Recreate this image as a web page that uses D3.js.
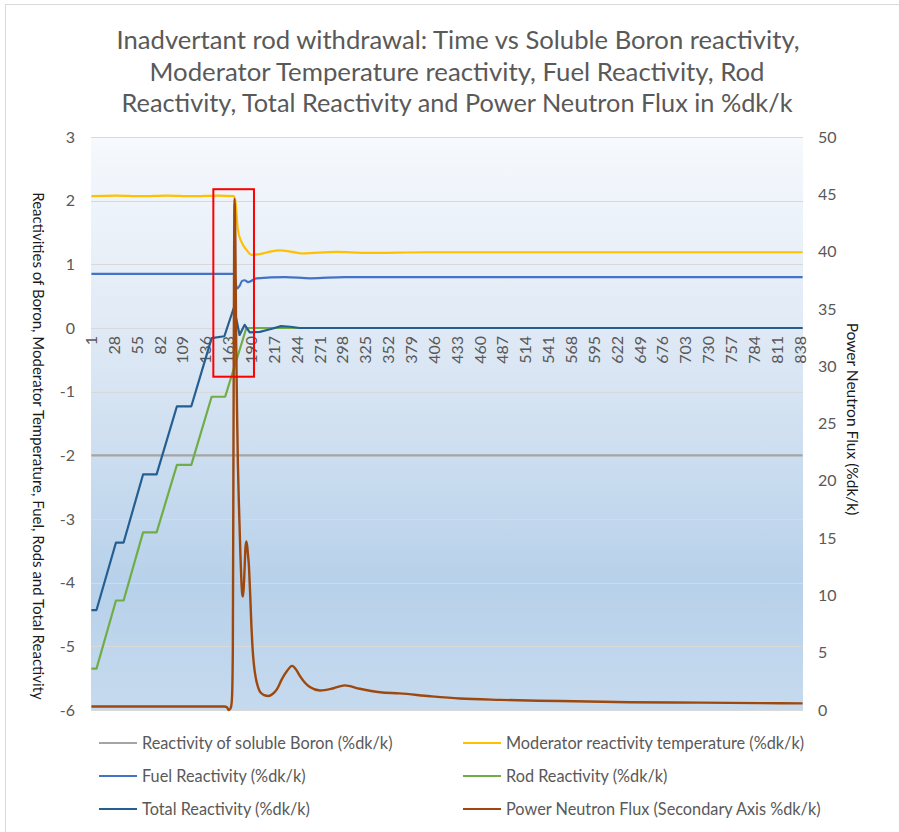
<!DOCTYPE html>
<html>
<head>
<meta charset="utf-8">
<script src="https://cdn.jsdelivr.net/npm/d3@7"></script>
<style>
  html, body { margin: 0; padding: 0; background: #ffffff; }
  svg { display: block; font-family: Lato, "Open Sans", sans-serif; }
</style>
</head>
<body>
<svg id="chart" width="899" height="832"></svg>
<script>
// ---- data -------------------------------------------------------------
// simulation time steps (category axis)
const timeSteps = d3.range(1, 842);
const tickLabels = [1, 28, 55, 82, 109, 136, 163, 190, 217, 244, 271, 298, 325, 352, 379, 406,
  433, 460, 487, 514, 541, 568, 595, 622, 649, 676, 703, 730, 757, 784, 811, 838];
const leftTicks = [-6, -5, -4, -3, -2, -1, 0, 1, 2, 3];
const rightTicks = [0, 5, 10, 15, 20, 25, 30, 35, 40, 45, 50];

const titleLines = [
  "Inadvertant rod withdrawal: Time vs Soluble Boron reactivity,",
  "Moderator Temperature reactivity, Fuel Reactivity, Rod",
  "Reactivity, Total Reactivity and Power Neutron Flux in %dk/k"
];
const leftAxisTitle = "Reactivities of Boron, Moderator Temperature, Fuel, Rods and Total Reactivity";
const rightAxisTitle = "Power Neutron Flux (%dk/k)";

const seriesNames = [
  "Reactivity of soluble Boron (%dk/k)",
  "Moderator reactivity temperature (%dk/k)",
  "Fuel Reactivity (%dk/k)",
  "Rod Reactivity (%dk/k)",
  "Total Reactivity (%dk/k)",
  "Power Neutron Flux (Secondary Axis %dk/k)"
];

// reactivity series (%dk/k), sampled at the listed time steps
const boronT = [1, 841];
const boronV = [-2, -2];

const moderatorT = [1, 30, 60, 90, 120, 150, 169, 171, 174, 178, 184, 190, 200, 212, 224, 236, 250, 290, 325, 400, 841];
const moderatorV = [2.07, 2.08, 2.07, 2.08, 2.07, 2.08, 2.07, 2.0, 1.54, 1.36, 1.23, 1.15, 1.16, 1.20, 1.22, 1.20, 1.17, 1.195, 1.18, 1.19, 1.19];

const fuelT = [1, 169, 170, 173, 176, 179, 182, 186, 196, 230, 260, 300, 841];
const fuelV = [0.85, 0.85, 0.82, 0.62, 0.66, 0.74, 0.75, 0.72, 0.78, 0.80, 0.78, 0.80, 0.80];

const rodT = [1, 7, 30, 39, 62, 78, 102, 119, 143, 159, 184, 841];
const rodV = [-5.35, -5.35, -4.28, -4.28, -3.21, -3.21, -2.15, -2.15, -1.08, -1.08, 0, 0];

const totalT = [1, 7, 30, 39, 62, 78, 102, 119, 143, 158, 169, 170, 176, 182, 188, 200, 212, 225, 236, 247, 841];
const totalV = [-4.43, -4.43, -3.37, -3.37, -2.30, -2.30, -1.23, -1.23, -0.16, -0.13, 0.31, 0.28, -0.11, 0.05, -0.07, -0.06, -0.02, 0.03, 0.02, 0.0, 0.0];

// power neutron flux (secondary axis)
const fluxT = [1, 100, 158, 161, 163, 165, 166, 167, 168, 169, 170, 171, 172, 173, 174, 175, 176, 177, 178, 179, 180,
  181, 182, 183, 184, 185, 186, 187, 188, 189, 190, 191, 192, 194, 197, 200, 205, 210, 215, 220, 226, 232, 238,
  243, 247, 253, 259, 271, 287, 300, 318, 342, 365, 401, 436, 484, 555, 637, 720, 791, 841];
const fluxV = [0.3, 0.3, 0.3, 0.25, 0.0, 0.1, 0.3, 1.0, 5.0, 28.0, 44.6, 41.0, 32.0, 26.0, 21.5, 18.5, 16.0, 13.5, 11.5, 10.2, 9.9,
  10.8, 12.5, 14.2, 14.7, 14.3, 13.5, 12.6, 11.0, 9.2, 7.3, 5.8, 4.7, 3.3, 2.2, 1.6, 1.3, 1.22, 1.4, 1.8, 2.7, 3.4, 3.85,
  3.5, 3.0, 2.4, 2.0, 1.7, 1.9, 2.15, 1.85, 1.55, 1.45, 1.2, 1.0, 0.88, 0.78, 0.68, 0.64, 0.6, 0.58];

// highlighted window around the excursion
const highlightT = [145, 193];
const highlightV = [2.18, -0.765];

// ---- layout & style ----------------------------------------------------
const plot = { left: 91, right: 803, top: 137, bottom: 710 };
const colors = ["#a5a5a5", "#ffc000", "#4472c4", "#70ad47", "#255e91", "#9e480e"];
const textGray = "#595959";
const titleWidths = [683, 615, 671];

const svg = d3.select("#chart");

// outer chart border
svg.append("rect")
  .attr("x", 5.5).attr("y", 4.5).attr("width", 920).attr("height", 860)
  .attr("fill", "#ffffff").attr("stroke", "#d9d9d9").attr("stroke-width", 1);

const x = d3.scaleLinear()
  .domain([timeSteps[0] - 0.5, timeSteps[timeSteps.length - 1] + 0.5])
  .range([plot.left, plot.right]);
const yL = d3.scaleLinear().domain([-6, 3]).range([plot.bottom, plot.top]);
const yR = d3.scaleLinear().domain([0, 50]).range([plot.bottom, plot.top]);

// plot-area gradient
const defs = svg.append("defs");
const grad = defs.append("linearGradient").attr("id", "plotBg")
  .attr("x1", 0).attr("y1", 0).attr("x2", 0).attr("y2", 1);
[[0, "#f6f9fd"], [0.35, "#dfe9f5"], [0.78, "#b7d1ea"], [1, "#c6daee"]].forEach(([o, c]) =>
  grad.append("stop").attr("offset", o).attr("stop-color", c));

svg.append("rect")
  .attr("x", plot.left).attr("y", plot.top)
  .attr("width", plot.right - plot.left).attr("height", plot.bottom - plot.top)
  .attr("fill", "url(#plotBg)");

// horizontal gridlines
svg.append("g").selectAll("line").data(leftTicks).join("line")
  .attr("x1", plot.left).attr("x2", plot.right)
  .attr("y1", d => Math.round(yL(d)) + 0.5).attr("y2", d => Math.round(yL(d)) + 0.5)
  .attr("stroke", "#d9d9d9").attr("stroke-width", 1.2);

// plain hyphen for negatives, as spreadsheet axes print them
const fmt = d => String(d);

// left axis labels
const axisL = d3.axisLeft(yL).tickValues(leftTicks).tickFormat(fmt).tickSize(0).tickPadding(0);
svg.append("g").attr("transform", `translate(${plot.left - 16},0)`).call(axisL)
  .call(g => g.select(".domain").remove())
  .call(g => g.selectAll("text").attr("fill", textGray).attr("font-size", 16)
    .attr("font-family", "Lato, sans-serif"));

// right axis labels
const axisR = d3.axisRight(yR).tickValues(rightTicks).tickFormat(fmt).tickSize(0).tickPadding(0);
svg.append("g").attr("transform", `translate(${plot.right + 15},0)`).call(axisR)
  .call(g => g.select(".domain").remove())
  .call(g => g.selectAll("text").attr("fill", textGray).attr("font-size", 16)
    .attr("font-family", "Lato, sans-serif"));

// category labels along the zero line, rotated
svg.append("g").selectAll("text").data(tickLabels).join("text")
  .attr("transform", d => `translate(${x(d)},${yL(0) + 8}) rotate(-90)`)
  .attr("text-anchor", "end").attr("dy", "0.35em")
  .attr("fill", textGray).attr("font-size", 16)
  .text(d => d);

// series lines
const reactivitySeries = [
  { t: boronT, v: boronV, curve: d3.curveLinear },
  { t: moderatorT, v: moderatorV, curve: d3.curveMonotoneX },
  { t: fuelT, v: fuelV, curve: d3.curveMonotoneX },
  { t: rodT, v: rodV, curve: d3.curveLinear },
  { t: totalT, v: totalV, curve: d3.curveLinear }
];
reactivitySeries.forEach((s, i) => {
  const pts = s.t.map((t, k) => [t, s.v[k]]);
  svg.append("path").datum(pts)
    .attr("fill", "none").attr("stroke", colors[i]).attr("stroke-width", 2.2)
    .attr("stroke-linejoin", "round")
    .attr("d", d3.line().x(d => x(d[0])).y(d => yL(d[1])).curve(s.curve));
});

const fluxPts = fluxT.map((t, k) => [t, fluxV[k]]);
svg.append("path").datum(fluxPts)
  .attr("fill", "none").attr("stroke", colors[5]).attr("stroke-width", 2.4)
  .attr("stroke-linejoin", "round")
  .attr("d", d3.line().x(d => x(d[0])).y(d => yR(d[1])).curve(d3.curveMonotoneX));

// highlight box
svg.append("rect")
  .attr("x", x(highlightT[0])).attr("y", yL(highlightV[0]))
  .attr("width", x(highlightT[1]) - x(highlightT[0]))
  .attr("height", yL(highlightV[1]) - yL(highlightV[0]))
  .attr("fill", "none").attr("stroke", "#ff0000").attr("stroke-width", 2);

// title
svg.append("g").selectAll("text").data(titleLines).join("text")
  .attr("x", (d, i) => [458, 457, 457][i]).attr("y", (d, i) => 49 + i * 31.5)
  .attr("text-anchor", "middle").attr("fill", textGray).attr("font-size", 25.5)
  .attr("textLength", (d, i) => titleWidths[i]).attr("lengthAdjust", "spacingAndGlyphs")
  .text(d => d);

// axis titles
svg.append("text")
  .attr("transform", "translate(38,446) rotate(90)")
  .attr("text-anchor", "middle").attr("dy", "0.35em")
  .attr("fill", "#1a1a1a").attr("font-size", 15)
  .text(leftAxisTitle);
svg.append("text")
  .attr("transform", "translate(852,419) rotate(90)")
  .attr("text-anchor", "middle").attr("dy", "0.35em")
  .attr("fill", "#1a1a1a").attr("font-size", 15.5)
  .text(rightAxisTitle);

// legend: two columns, three rows
const legend = svg.append("g").selectAll("g").data(seriesNames).join("g")
  .attr("transform", (d, i) => `translate(${i % 2 === 0 ? 99 : 463},${743 + Math.floor(i / 2) * 33})`);
legend.append("line")
  .attr("x1", 0).attr("x2", 38).attr("y1", 0).attr("y2", 0)
  .attr("stroke", (d, i) => colors[i]).attr("stroke-width", 2.2);
legend.append("text")
  .attr("x", 43).attr("dy", "0.35em")
  .attr("fill", textGray).attr("font-size", 16.3)
  .text(d => d);
</script>
</body>
</html>
